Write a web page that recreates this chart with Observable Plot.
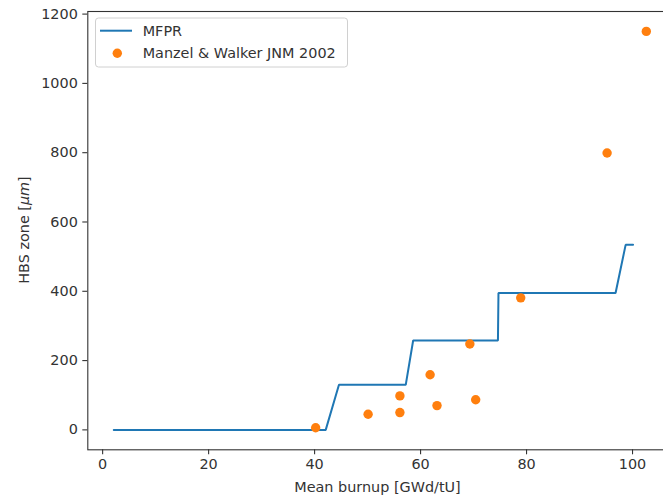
<!DOCTYPE html>
<html>
<head>
<meta charset="utf-8">
<script src="https://cdn.jsdelivr.net/npm/d3@7"></script>
<script src="https://cdn.jsdelivr.net/npm/@observablehq/plot@0.6"></script>
<style>
  html, body { margin: 0; padding: 0; background: #fff; overflow: hidden; }
  #wrap { position: relative; width: 663px; height: 495px; overflow: hidden; }
  #wrap svg { display: block; }
  #overlay { position: absolute; left: 0; top: 0; pointer-events: none; }
</style>
</head>
<body>
<div id="wrap"></div>
<script>
// MFPR model: HBS zone width versus mean burnup (stepwise)
const mfprBurnup = [2.1, 42.1, 44.6, 57.2, 58.6, 74.6, 74.7, 96.8, 98.7, 100.1];
const mfprHbs    = [0,   0,    130,  130,  258,  258,  395,  395,  534,  534];

// Manzel & Walker JNM 2002 measurements
const mwBurnup = [40.2, 50.1, 56.1, 56.1, 61.8, 63.1, 69.3, 70.4, 78.9, 95.2, 102.6];
const mwHbs    = [6,    45,   98,   50,   159,  70,   248,  87,   381,  799,  1150];

// Axis ticks
const xTicks = [0, 20, 40, 60, 80, 100];
const yTicks = [0, 200, 400, 600, 800, 1000, 1200];

const seriesNames = ["MFPR", "Manzel & Walker JNM 2002"];
const blue = "#1f77b4", orange = "#ff7f0e", ink = "#333";
const font = "DejaVu Sans, sans-serif";
const fontSize = 14.4;

const mfpr = mfprBurnup.map((b, i) => ({burnup: b, hbs: mfprHbs[i]}));
const measured = mwBurnup.map((b, i) => ({burnup: b, hbs: mwHbs[i]}));

const W = 663, H = 495;
const M = {left: 87.3, right: -9.3, top: 11, bottom: 45.7};

const chart = Plot.plot({
  width: W,
  height: H,
  marginLeft: M.left,
  marginRight: M.right,
  marginTop: M.top,
  marginBottom: M.bottom,
  style: {fontFamily: font, fontSize: fontSize + "px", color: ink, background: "#fff", overflow: "hidden"},
  x: {domain: [-2.8, 107.6]},
  y: {domain: [-57.5, 1207.5]},
  marks: [
    Plot.axisX({ticks: xTicks, tickSize: 5, tickPadding: 4, tickFormat: "d", label: null, stroke: ink, strokeWidth: 1.1}),
    Plot.axisY({ticks: yTicks, tickSize: 5, tickPadding: 5, tickFormat: "d", label: null, stroke: ink, strokeWidth: 1.1}),
    Plot.line(mfpr, {x: "burnup", y: "hbs", stroke: blue, strokeWidth: 2, strokeLinejoin: "miter"}),
    Plot.dot(measured, {x: "burnup", y: "hbs", r: 4.7, fill: orange, stroke: "none"}),
    Plot.frame({stroke: ink, strokeWidth: 1.1})
  ]
});

const wrap = document.getElementById("wrap");
wrap.appendChild(chart);

// Axis titles and legend drawn on top of the plot
const ns = "http://www.w3.org/2000/svg";
const ov = d3.select(wrap).append("svg")
  .attr("id", "overlay")
  .attr("width", W).attr("height", H)
  .attr("font-family", font)
  .attr("font-size", fontSize)
  .attr("fill", ink);

// x-axis title
ov.append("text")
  .attr("x", 377.5).attr("y", 492)
  .attr("text-anchor", "middle")
  .text("Mean burnup [GWd/tU]");

// y-axis title with italic unit
const yt = ov.append("text")
  .attr("transform", "translate(29,230) rotate(-90)")
  .attr("text-anchor", "middle");
yt.append("tspan").text("HBS zone [");
yt.append("tspan").attr("font-style", "italic").text("\u03bcm");
yt.append("tspan").text("]");

// legend
const lg = ov.append("g");
lg.append("rect")
  .attr("x", 95.5).attr("y", 18).attr("width", 252).attr("height", 49)
  .attr("rx", 3).attr("fill", "#fff").attr("fill-opacity", 0.8)
  .attr("stroke", "#d0d0d0").attr("stroke-width", 1);
lg.append("line")
  .attr("x1", 100).attr("x2", 132).attr("y1", 30.7).attr("y2", 30.7)
  .attr("stroke", blue).attr("stroke-width", 2);
lg.append("circle")
  .attr("cx", 117.3).attr("cy", 53.3).attr("r", 4.7).attr("fill", orange);
lg.append("text")
  .attr("x", 142.7).attr("y", 35.8).text(seriesNames[0]);
lg.append("text")
  .attr("x", 142.7).attr("y", 58.4).text(seriesNames[1]);
</script>
</body>
</html>
